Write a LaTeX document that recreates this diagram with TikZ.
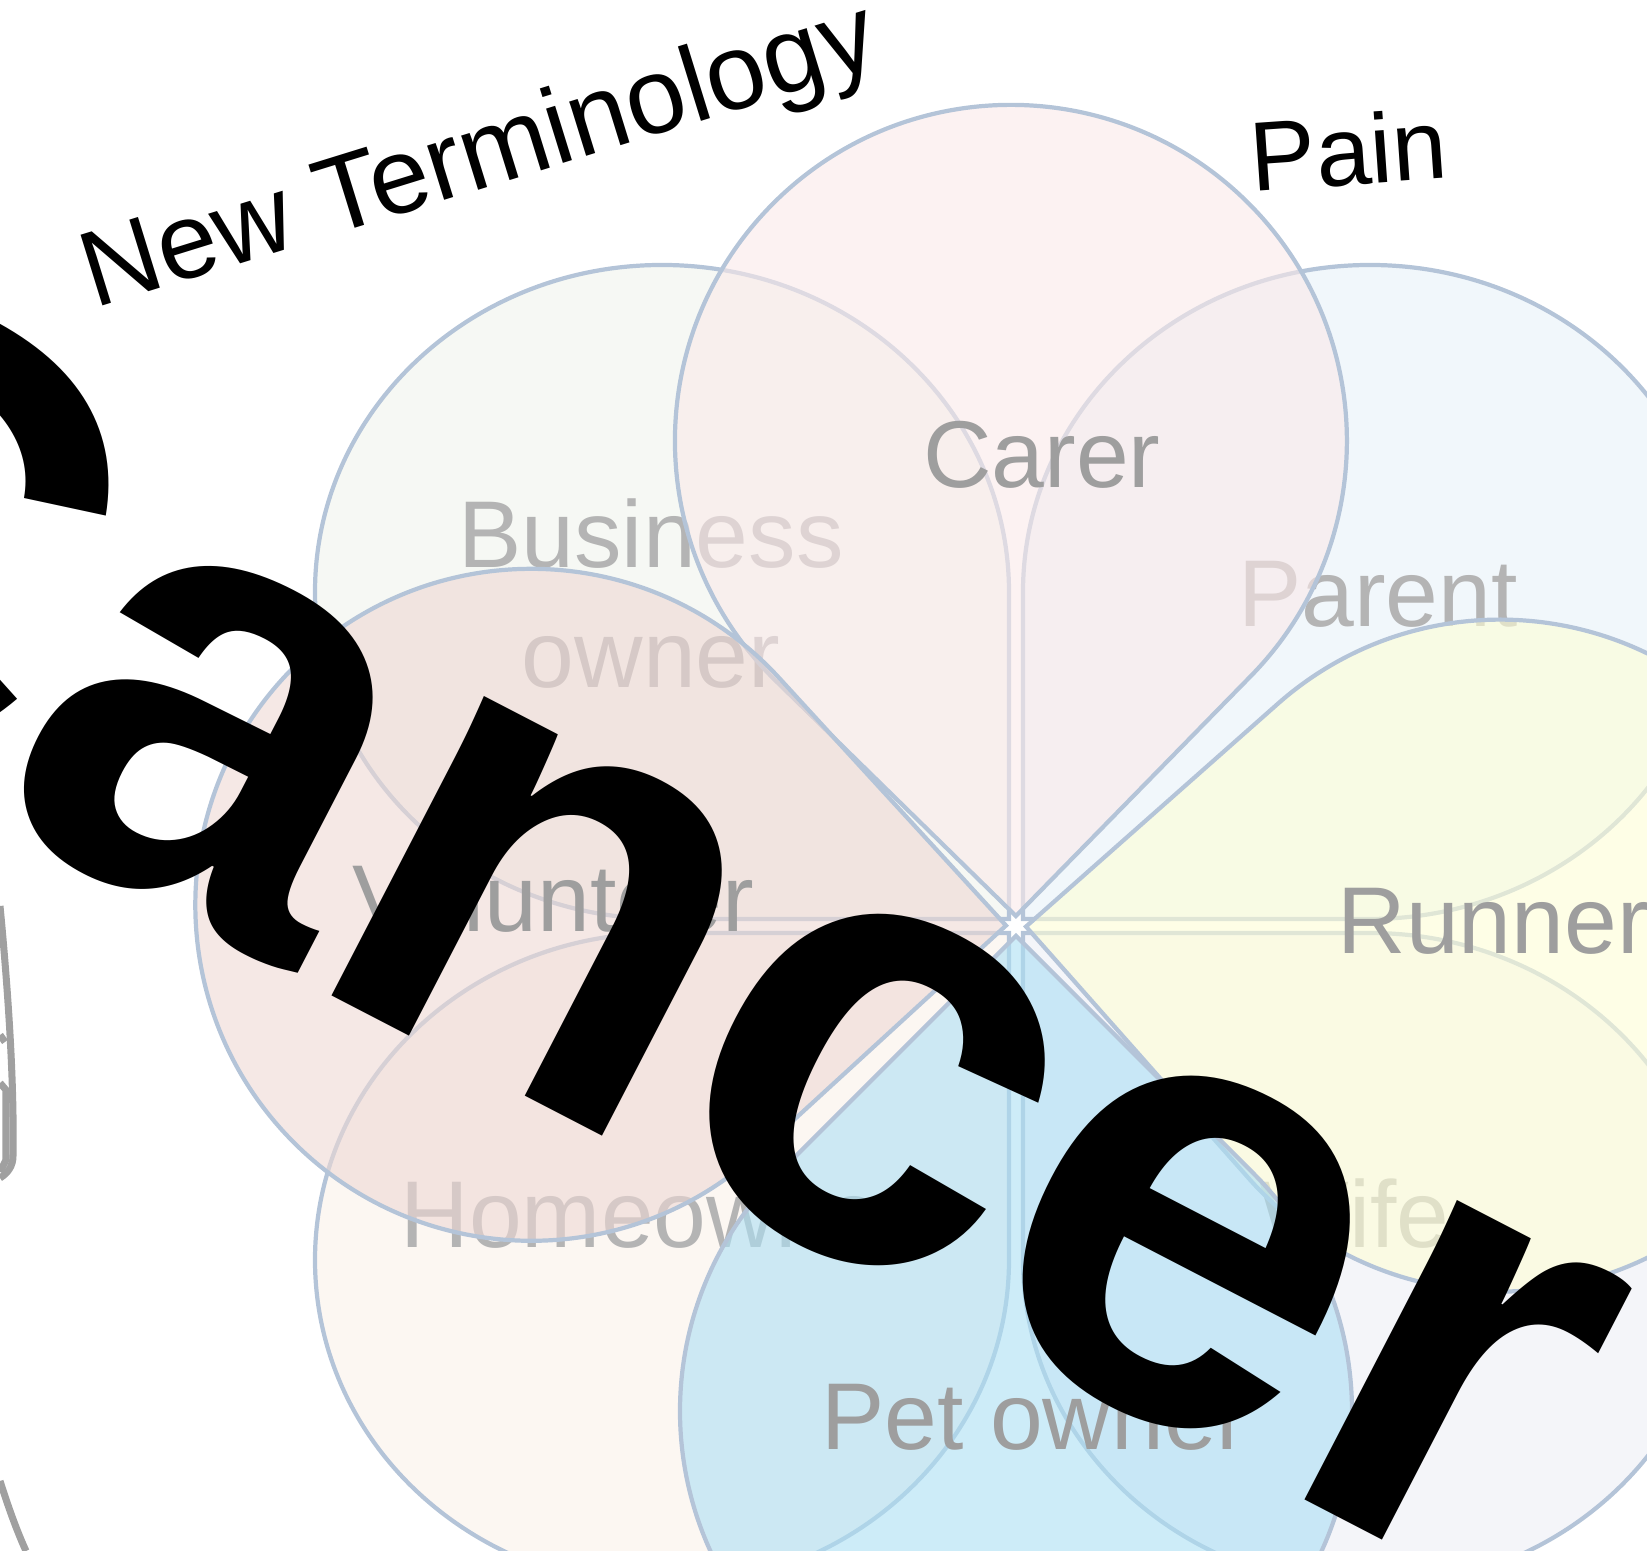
\documentclass[tikz,border=0pt]{standalone}
\usepackage{fontspec}
\setmainfont{Liberation Sans}
\usepackage{tikz}

\definecolor{petalline}{RGB}{180,196,216}
\definecolor{labelgrey}{RGB}{158,158,158}
\definecolor{labelpale}{RGB}{180,180,180}
\definecolor{icongrey}{RGB}{160,160,160}
\definecolor{carerpink}{RGB}{250,233,233}
\definecolor{businessgreen}{RGB}{240,244,236}
\definecolor{parentblue}{RGB}{232,241,248}
\definecolor{runneryellow}{RGB}{254,254,214}
\definecolor{wifelilac}{RGB}{237,238,245}
\definecolor{petblue}{RGB}{172,224,244}
\definecolor{homepeach}{RGB}{250,241,234}
\definecolor{volunteerrose}{RGB}{238,216,212}

% petal with its point at the origin, turned by #1
\newcommand{\roundpetal}[2]{%
  \draw[petal, fill=#2, rotate=#1] (0.1,0) -- ++(45:3.36)
    arc[start angle=135, end angle=-135, radius=3.36] -- cycle;}
% petal sitting in a corner, mirrored by #1 and #2
\newcommand{\cornerpetal}[3]{%
  \draw[petal, fill=#3, xscale=#1, yscale=#2] (-0.07,0.07) -- ++(0,3.27)
    arc[start angle=0, end angle=270, x radius=3.47, y radius=3.27] -- cycle;}

\begin{document}
\begin{tikzpicture}[
  petal/.style={draw=petalline, line width=1.2pt, fill opacity=0.6},
  petlabel/.style={font=\fontsize{27}{34.4}\selectfont, text=labelgrey, inner sep=0pt},
  palelabel/.style={petlabel, text=labelpale},
  iconline/.style={draw=icongrey, line width=2pt}]
\useasboundingbox (0,0) rectangle (16.47,15.51);
\clip (0,0) rectangle (16.47,15.51);
%
\begin{scope}[shift={(10.16,6.25)}]
\cornerpetal{1}{1}{businessgreen}
\node[palelabel, align=center, anchor=base] (business) at (-3.65,2.38) {Business\\owner};
\cornerpetal{-1}{1}{parentblue}
\node[palelabel, anchor=base] (parent) at (3.62,2.99) {Parent};
\cornerpetal{-1}{-1}{wifelilac}
\node[palelabel, anchor=base west] (wife) at (2.43,-3.22) {Wife};
\cornerpetal{1}{-1}{homepeach}
\node[palelabel, anchor=base west] (homeowner) at (-6.16,-3.22) {Homeowner};
%
\roundpetal{90.6}{carerpink}
\node[petlabel, anchor=base] (carer) at (0.26,4.38) {Carer};
\roundpetal{-3.5}{runneryellow}
\node[petlabel, anchor=base west] (runner) at (3.21,-0.28) {Runner};
\roundpetal{-90}{petblue}
\node[petlabel, anchor=base] (petowner) at (0.19,-5.24) {Pet owner};
\roundpetal{177.5}{volunteerrose}
\node[petlabel, anchor=base west] (volunteer) at (-6.64,-0.06) {Volunteer};
\end{scope}
%
\node[font=\fontsize{181}{181}\selectfont\bfseries, rotate=-27.4, anchor=base west, inner sep=0pt] (cancer) at (-4.3,9.5) {Cancer};
\node[font=\fontsize{30.6}{30.6}\selectfont, rotate=17.2, anchor=base west, inner sep=0pt] (newterm) at (0.94,12.42) {New Terminology};
\node[font=\fontsize{28}{28}\selectfont, rotate=4, anchor=base west, inner sep=0pt] (pain) at (12.52,13.59) {Pain};
%
\draw[iconline] (0,6.45) .. controls (0.1,5.4) and (0.14,4.6) .. (0.13,3.95) .. controls (0.13,3.85) and (0.08,3.78) .. (0,3.73);
\draw[iconline] (0,5.16) -- (0.05,5.09);
\draw[iconline] (0,4.68) -- (0.06,4.61) -- (0.06,3.91) -- (0,3.79);
\draw[iconline] (0,0.70) .. controls (0.08,0.45) and (0.16,0.22) .. (0.26,0);
\end{tikzpicture}
\end{document}
